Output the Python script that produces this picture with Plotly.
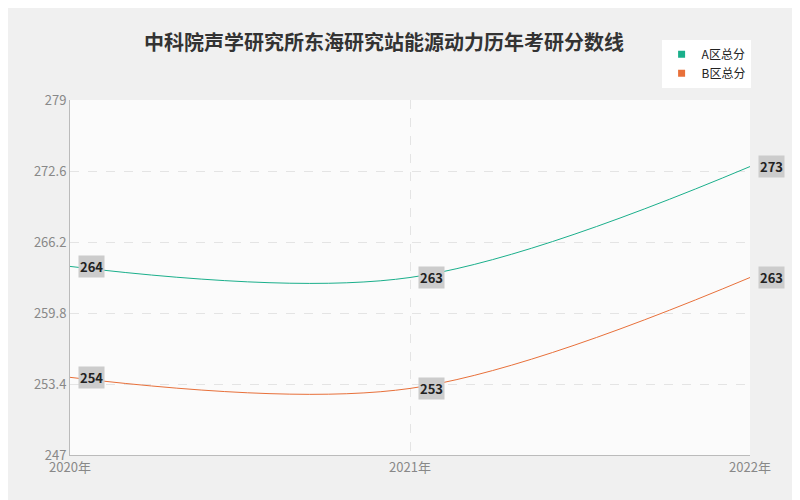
import plotly.graph_objects as go

years = ["2020年", "2021年", "2022年"]
a_vals = [264, 263, 273]
b_vals = [254, 253, 263]
y_ticks = [247, 253.4, 259.8, 266.2, 272.6, 279]

colors = ["#1aaf8b", "#e8703a"]
names = ["A区总分", "B区总分"]
fig = go.Figure()
for vals, c, n in zip((a_vals, b_vals), colors, names):
    fig.add_trace(go.Scatter(x=[0, 1, 2], y=vals, mode="lines", showlegend=False,
                             line=dict(color=c, width=1, shape="spline", smoothing=1.0)))
for c, n in zip(colors, names):
    fig.add_trace(go.Scatter(x=[None], y=[None], mode="markers", name=n,
                             marker=dict(color=c, symbol="square", size=7)))

anns = []
for vals in (a_vals, b_vals):
    for i, v in enumerate(vals):
        anns.append(dict(x=i, y=v, text="<b>%d</b>" % v, showarrow=False, xanchor="left",
                         xshift=8, bgcolor="#cccccc", font=dict(size=13, color="#222"),
                         borderpad=1))

fig.update_layout(
    width=800, height=500,
    paper_bgcolor="#f0f0f0", plot_bgcolor="#fbfbfb",
    margin=dict(l=62, r=58, t=92, b=53),
    title=dict(text="<b>中科院声学研究所东海研究站能源动力历年考研分数线</b>", x=0.47, y=0.945,
               font=dict(size=20, color="#333", family="Noto Sans CJK SC")),
    font=dict(family="Noto Sans CJK SC", color="#888"),
    legend=dict(x=0.87, y=1.17, xanchor="left", yanchor="top", bgcolor="white",
                font=dict(size=12, color="#222"), itemwidth=30, tracegroupgap=0),
    xaxis=dict(range=[0, 2], tickvals=[0, 1, 2], ticktext=years, showgrid=True,
               gridcolor="#e4e4e4", griddash="dash", zeroline=False,
               showline=True, linecolor="#bbb", tickfont=dict(size=13)),
    yaxis=dict(range=[247, 279], tickvals=y_ticks, ticktext=[str(t) for t in y_ticks],
               showgrid=True, gridcolor="#e4e4e4", griddash="dash", zeroline=False,
               showline=True, linecolor="#bbb", tickfont=dict(size=13)),
    annotations=anns,
)
fig.write_html("out.html")
